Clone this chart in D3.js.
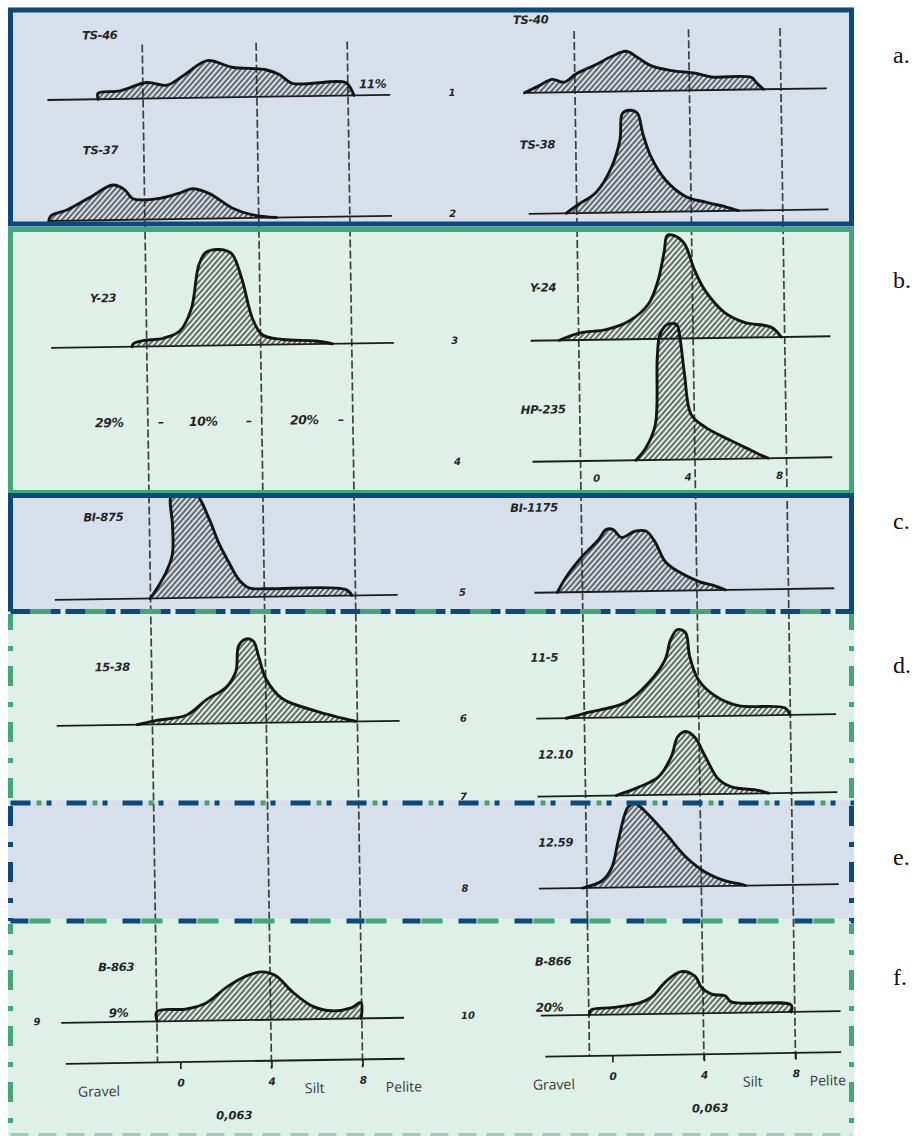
<!DOCTYPE html>
<html>
<head>
<meta charset="utf-8">
<script src="https://cdn.jsdelivr.net/npm/d3@7"></script>
<style>
    body { margin: 0; background: #fff; }
    .hand { font-family: "DejaVu Sans", sans-serif; font-style: italic; font-weight: bold; fill: #262626; }
</style>
</head>
<body>
<svg id="chart" width="917" height="1136"></svg>
<script>
/**
 * Data: grain-size curves, [phi, weight %].
 */
const sampleNames = ['TS-46', 'TS-37', 'TS-40', 'TS-38', 'Y-23', 'Y-24', 'HP-235', 'BI-875',
    'BI-1175', '15-38', '11-5', '12.10', '12.59', 'B-863', 'B-866'];
const sampleRows = [1, 2, 1, 2, 3, 3, 4, 5, 5, 6, 6, 7, 8, 9, 10];
const sampleColumns = ['left', 'left', 'right', 'right', 'left', 'right', 'right', 'left',
    'right', 'left', 'right', 'right', 'right', 'left', 'right'];

const ts46 = [[-2.97, 0], [-2.97, 3], [-2, 4], [-0.83, 8], [0.05, 6.5], [0.83, 11.5], [1.84, 18.5],
    [2.93, 15], [4.41, 13.5], [5, 11], [5.55, 6.5], [7.9, 6.5], [8.17, 2.5], [8.26, 0]];
const ts37 = [[-5.22, 0], [-5.13, 2.5], [-4.39, 5.5], [-3.39, 11.5], [-2.38, 17.5], [-1.86, 15],
    [-1.51, 10.5], [-0.33, 10.5], [0.54, 13], [1.11, 15], [1.85, 12.5], [2.86, 5], [3.73, 1.5], [4.78, 0]];
const ts40 = [[-3.21, 0], [-2.55, 3.5], [-1.99, 6.5], [-1.47, 5], [-0.95, 9], [-0.08, 13.5], [0.62, 17.5],
    [1.27, 20], [1.79, 16.5], [2.36, 12.5], [3.23, 10], [4.27, 8.5], [4.97, 6.5], [6.71, 6],
    [6.92, 3.5], [7.23, 0]];
const ts38 = [[-1.46, 0], [-0.9, 4.5], [-0.16, 10], [0.54, 22.5], [0.93, 36], [1.06, 49.5], [1.37, 51],
    [1.71, 49.5], [1.93, 39.5], [2.28, 27.5], [2.89, 16], [3.76, 7.5], [4.63, 4.5], [5.5, 2], [6.06, 0]];
const y23 = [[-1.64, 0], [-1.59, 1.5], [-1.16, 3], [-0.28, 4], [0.46, 7.5], [0.98, 18.5], [1.33, 40],
    [1.64, 46.5], [2.21, 48], [2.77, 46], [3.21, 33.5], [3.65, 13.5], [4.08, 5], [4.96, 2.5],
    [6.44, 1.5], [7.14, 0]];
const y24 = [[-1.85, 0], [-0.98, 3.5], [0.2, 5], [1.2, 9], [2.07, 17.5], [2.5, 29], [2.8, 44], [2.93, 51.5],
    [3.24, 51.5], [3.67, 47.5], [4.11, 34], [4.54, 24], [5.41, 12.5], [6.28, 7.5], [7.41, 5], [7.85, 0]];
const hp235 = [[1.42, 0], [1.86, 6], [2.29, 17.5], [2.42, 51], [2.55, 62.5], [2.86, 67.5], [3.29, 67.5],
    [3.42, 61], [3.6, 42.5], [3.86, 22.5], [4.47, 16], [5.6, 9], [6.47, 4], [6.9, 1.5], [7.2, 0]];
const bi875 = [[-1.02, 0], [-0.71, 5], [-0.28, 13.5], [-0.01, 22], [0.01, 37], [-0.06, 50], [0.07, 52],
    [1.03, 52], [1.6, 40], [2.04, 27], [2.48, 17], [2.91, 8.5], [3.35, 4.5], [4.09, 4], [7.58, 3], [7.85, 0]];
const bi1175 = [[-2.1, 0], [-1.71, 7.5], [-1.01, 17.5], [-0.27, 26], [0.07, 31], [0.38, 31], [0.73, 27],
    [1.33, 30], [1.81, 30], [2.2, 24.5], [2.64, 14.5], [3.2, 9.5], [4.07, 4.5], [4.81, 2], [5.24, 0]];
const s1538 = [[-1.67, 0], [-0.79, 2], [0.52, 4.5], [1.39, 12], [2.26, 18], [2.7, 26], [2.83, 38.5],
    [3.14, 42], [3.48, 41], [3.7, 33.5], [4.01, 22], [4.71, 12], [6.19, 5.5], [7.94, 0]];
const s115 = [[-1.79, 0], [-0.92, 2.5], [0.82, 7.5], [1.82, 17], [2.56, 28.5], [2.82, 38.5], [3.12, 43.5],
    [3.47, 42], [3.64, 30], [3.99, 18.5], [4.73, 10], [5.73, 5], [7.77, 3.5], [7.98, 0]];
const s1210 = [[0.33, 0], [1.33, 4], [2.2, 9], [2.77, 19], [3.07, 29], [3.42, 31.5], [3.81, 28.5],
    [4.25, 19], [4.81, 7.5], [5.38, 3.5], [6.55, 1.5], [6.99, 0]];
const s1259 = [[-1.2, 0], [-0.33, 3.5], [0.1, 10], [0.4, 23.5], [0.84, 40], [1.14, 42], [1.4, 40],
    [2.45, 27], [3.32, 15], [4.19, 7], [5.06, 2.5], [5.63, 1], [5.93, 0]];
const b863 = [[-0.99, 0], [-0.99, 5], [0.32, 6], [1.2, 9], [2.07, 16.5], [2.94, 22], [3.64, 24],
    [4.25, 22], [4.95, 14], [5.83, 6.5], [6.7, 4], [7.57, 5.5], [7.97, 8], [7.97, 0]];
const b866 = [[-0.98, 0], [-0.9, 2.5], [0.02, 3.5], [1.19, 5.5], [1.76, 8.5], [2.37, 16], [3.06, 21],
    [3.67, 18.5], [3.93, 13], [4.37, 9.5], [4.97, 8.5], [5.23, 5.5], [7.84, 3.5], [7.84, 0]];

const distributions = [ts46, ts37, ts40, ts38, y23, y24, hp235, bi875, bi1175, s1538, s115, s1210,
    s1259, b863, b866];

const rowNumbers = ['1', '2', '3', '4', '5', '6', '7', '8', '9', '10'];
const boundaryPhi = [-1, 4, 8]; // gravel/sand, sand/silt, silt/pelite
const phiTicks = [0, 4, 8];
const fractionNames = ['Gravel', 'Silt', 'Pelite'];
const sieveSize = '0,063';
const summaryText = ['29%', '–', '10%', '–', '20%', '–'];
const curveNotes = ['11%', '9%', '20%'];
const panelLabels = ['a.', 'b.', 'c.', 'd.', 'e.', 'f.'];

/**
 * Layout.
 */
const svg = d3.select('#chart');
const blue = '#0b4a7e', green = '#3fa878',
    blueFill = '#d7e0ea', greenFill = '#dff0e8';
const X0 = 10.5, X1 = 851.5;

const columns = {
    left: { x: d3.scaleLinear().domain([-1, 8]).range([150, 355]), base: [-5.2, 9.85], top: 40 },
    right: { x: d3.scaleLinear().domain([-1, 8]).range([582, 788]), base: [-3.1, 10.0], top: 33 }
};
const rowBaseline = { 1: 94, 2: 215, 3: 342, 4: 463, 5: 594, 6: 720, 7: 798, 8: 890, 9: 1017, 10: 1017 };
const axisY = 1058;
const hScale = d3.scaleLinear().domain([0, 100]).range([0, 200]);

// Panel bands: [top, bottom, fill]
const bands = [[10, 224, blueFill], [229.5, 492.5, greenFill], [495.5, 611.5, blueFill],
    [611.5, 803, greenFill], [803, 921, blueFill], [921, 1134, greenFill]];

svg.selectAll('rect.band').data(bands).enter().append('rect')
    .attr('class', 'band')
    .attr('x', X0 - 2.5).attr('width', X1 - X0 + 5)
    .attr('y', d => d[0] - 2.5).attr('height', d => d[1] - d[0] + 5)
    .attr('fill', d => d[2]);

const defs = svg.append('defs');
defs.append('pattern')
    .attr('id', 'hatch')
    .attr('patternUnits', 'userSpaceOnUse')
    .attr('width', 4).attr('height', 4)
    .attr('patternTransform', 'rotate(42)')
    .append('line')
    .attr('x1', 1).attr('y1', 0).attr('x2', 1).attr('y2', 4)
    .attr('stroke', '#1e1e1e').attr('stroke-width', 1.25);

// Scan content is slightly rotated
const g = svg.append('g').attr('transform', 'rotate(-0.86, 450, 560)');

// Baselines
sampleRows.forEach((r, i) => {
    const col = columns[sampleColumns[i]];
    g.append('line')
        .attr('x1', col.x(col.base[0])).attr('x2', col.x(col.base[1]))
        .attr('y1', rowBaseline[r]).attr('y2', rowBaseline[r])
        .attr('stroke', '#1c1c1c').attr('stroke-width', 1.8);
});

// Curves
const line = d3.line().curve(d3.curveCatmullRom.alpha(0.5));
distributions.forEach((pts, i) => {
    const col = columns[sampleColumns[i]], y0 = rowBaseline[sampleRows[i]];
    const d = line(pts.map(p => [col.x(p[0]), y0 - hScale(p[1])])) + 'Z';
    g.append('path').attr('d', d).attr('fill', 'url(#hatch)');
});

// Boundary dashed lines
Object.values(columns).forEach(col => {
    boundaryPhi.forEach(p => {
        g.append('line')
            .attr('x1', col.x(p)).attr('x2', col.x(p))
            .attr('y1', col.top).attr('y2', p === -1 ? axisY : axisY + 8)
            .attr('stroke', '#222').attr('stroke-opacity', 0.85)
            .attr('stroke-width', 1.7).attr('stroke-dasharray', '8,3');
    });
});

// Curve outlines on top
distributions.forEach((pts, i) => {
    const col = columns[sampleColumns[i]], y0 = rowBaseline[sampleRows[i]];
    const d = line(pts.map(p => [col.x(p[0]), y0 - hScale(p[1])]));
    g.append('path').attr('d', d)
        .attr('fill', 'none').attr('stroke', '#141414')
        .attr('stroke-width', 2.9).attr('stroke-linejoin', 'round').attr('stroke-linecap', 'round');
});

// Sample names
const namePos = [[90, 34], [89, 149], [521, 25], [526, 150], [94, 297], [534, 293], [523, 415], [84, 516],
    [511, 513], [93, 666], [529, 663], [535, 760], [534, 848], [92, 966], [529, 967]];
g.selectAll('text.name').data(sampleNames).enter().append('text')
    .attr('class', 'hand name')
    .attr('x', (d, i) => namePos[i][0]).attr('y', (d, i) => namePos[i][1])
    .attr('font-size', 11.5).attr('letter-spacing', -0.3)
    .text(d => d);

// Row numbers
const rowNumX = [459, 458, 458, 459, 462, 461, 460, 460, 30, 461];
g.selectAll('text.row').data(rowNumbers).enter().append('text')
    .attr('class', 'hand row')
    .attr('x', (d, i) => rowNumX[i]).attr('y', (d, i) => rowBaseline[i + 1] + 2)
    .attr('font-size', 10).attr('text-anchor', 'middle')
    .text(d => d);

// Summary percentages in panel b
const summaryX = [97, 160, 191, 248, 292, 340];
g.selectAll('text.sum').data(summaryText).enter().append('text')
    .attr('class', 'hand sum')
    .attr('x', (d, i) => summaryX[i]).attr('y', 422)
    .attr('font-size', 12.5).attr('letter-spacing', -0.4)
    .text(d => d);

// Notes next to curves
const notePos = [[366, 87], [102, 1012], [529, 1013]];
g.selectAll('text.note').data(curveNotes).enter().append('text')
    .attr('class', 'hand note')
    .attr('x', (d, i) => notePos[i][0]).attr('y', (d, i) => notePos[i][1])
    .attr('font-size', 12).attr('letter-spacing', -0.4)
    .text(d => d);

// Small phi labels under row 4
phiTicks.forEach(p => {
    g.append('text').attr('class', 'hand')
        .attr('x', columns.right.x(p) - 7).attr('y', 484)
        .attr('font-size', 10).attr('text-anchor', 'middle')
        .text(p);
});

// Bottom axes
const namePosAxis = { left: [91, 307, 396], right: [546, 745, 820] };
const sievePos = { left: 226, right: 702 };
Object.entries(columns).forEach(([key, col]) => {
    g.append('line')
        .attr('x1', col.x(col.base[0]) + 4).attr('x2', col.x(col.base[1]))
        .attr('y1', axisY).attr('y2', axisY)
        .attr('stroke', '#1c1c1c').attr('stroke-width', 1.8);

    const ax = g.append('g')
        .attr('transform', 'translate(0,' + axisY + ')')
        .call(d3.axisBottom(col.x).tickValues(phiTicks).tickSize(7).tickPadding(10));
    ax.select('.domain').remove();
    ax.selectAll('line').attr('stroke', '#1c1c1c').attr('stroke-width', 1.6);
    ax.selectAll('text').attr('class', 'hand').attr('font-size', 10.5)
        .attr('font-family', null).attr('fill', '#262626');

    fractionNames.forEach((n, i) => {
        g.append('text')
            .attr('x', namePosAxis[key][i]).attr('y', 1091)
            .attr('text-anchor', 'middle')
            .attr('font-family', '"Open Sans", sans-serif').attr('font-size', 14)
            .attr('fill', '#3a3a3a')
            .text(n);
    });

    g.append('text').attr('class', 'hand')
        .attr('x', sievePos[key]).attr('y', 1116)
        .attr('text-anchor', 'middle').attr('font-size', 11.5)
        .text(sieveSize);
});

/**
 * Panel borders.
 */
function edge(x1, y1, x2, y2, color, dash, offset) {
    svg.append('line')
        .attr('x1', x1).attr('y1', y1).attr('x2', x2).attr('y2', y2)
        .attr('stroke', color).attr('stroke-width', 5)
        .attr('stroke-dasharray', dash || null)
        .attr('stroke-dashoffset', offset || 0);
}

// a, b: solid boxes
svg.append('rect').attr('x', X0).attr('y', 10).attr('width', X1 - X0).attr('height', 214)
    .attr('fill', 'none').attr('stroke', blue).attr('stroke-width', 5);
svg.append('rect').attr('x', X0).attr('y', 229.5).attr('width', X1 - X0).attr('height', 263)
    .attr('fill', 'none').attr('stroke', green).attr('stroke-width', 5);

// c: solid sides
edge(X0 - 2.5, 495.5, X1 + 2.5, 495.5, blue);
edge(X0, 495.5, X0, 611.5, blue);
edge(X1, 495.5, X1, 611.5, blue);

// d, e, f: dash-dot sides
const dashDot = '20,16,5,15';
edge(X0, 614, X0, 803, green, dashDot, 4);
edge(X1, 614, X1, 803, green, dashDot, 4);
edge(X0, 806, X0, 921, blue, dashDot, 0);
edge(X1, 806, X1, 921, blue, dashDot, 0);
edge(X0, 924, X0, 1136, green, dashDot, 10);
edge(X1, 924, X1, 1136, green, dashDot, 10);

// c/d boundary
edge(X0, 611.5, X1 + 2.5, 611.5, green, '20,35', -20);
edge(X0, 611.5, X1 + 2.5, 611.5, blue, '20,20,10,5', 0);

// d/e boundary
edge(X0, 803, X1 + 2.5, 803, blue, dashDot, 0);
edge(X0, 803, X1 + 2.5, 803, green, '5,51', -26);

// e/f boundary
edge(X0, 921, X1 + 2.5, 921, blue, '18,38', 0);
edge(X0, 921, X1 + 2.5, 921, green, '21,35', -19);

// f bottom
svg.append('line')
    .attr('x1', X0).attr('x2', X1).attr('y1', 1134.5).attr('y2', 1134.5)
    .attr('stroke', green).attr('stroke-opacity', 0.45).attr('stroke-width', 3)
    .attr('stroke-dasharray', '18,10');

// Panel letters
const letterY = [63, 288, 529, 673, 865, 985];
svg.selectAll('text.panel').data(panelLabels).enter().append('text')
    .attr('class', 'panel')
    .attr('x', 893).attr('y', (d, i) => letterY[i])
    .attr('font-family', '"Liberation Serif", "DejaVu Serif", serif').attr('font-size', 24)
    .attr('fill', '#111')
    .text(d => d);
</script>
</body>
</html>
